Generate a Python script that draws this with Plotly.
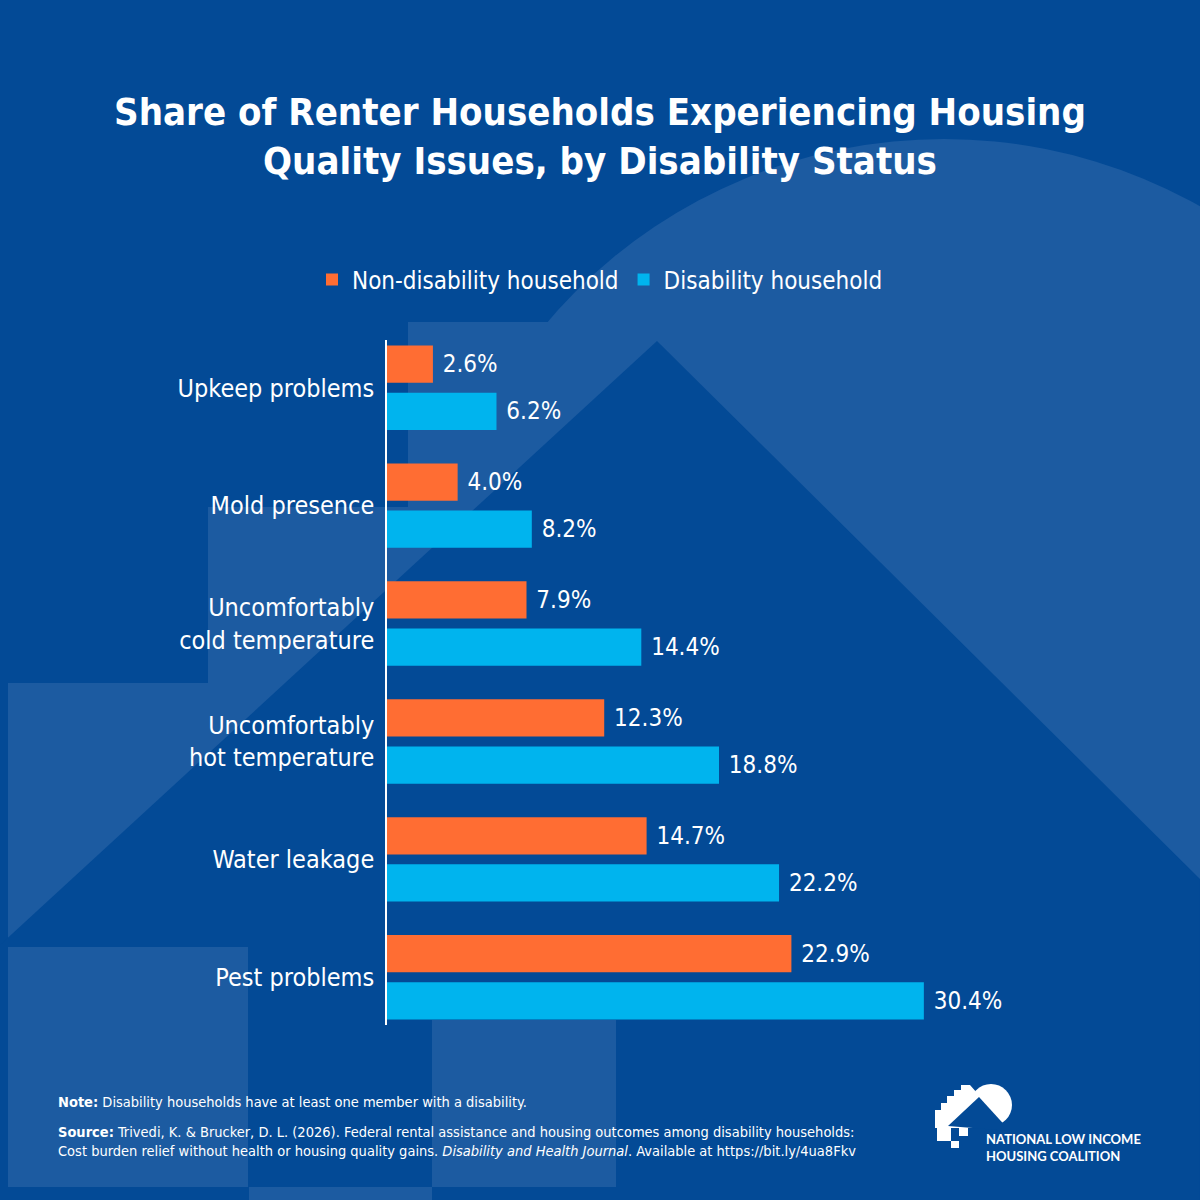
import plotly.graph_objects as go

# === data ===
categories = ['Upkeep problems', 'Mold presence', 'Uncomfortably<br>cold temperature',
              'Uncomfortably<br>hot temperature', 'Water leakage', 'Pest problems']
non_disability = [2.6, 4.0, 7.9, 12.3, 14.7, 22.9]
disability = [6.2, 8.2, 14.4, 18.8, 22.2, 30.4]
series_names = ['Non-disability household', 'Disability household']

BG = '#034a96'
LIGHT = '#1c5ba1'
ORANGE = '#ff6d33'
CYAN = '#00b4ee'
FONT = 'DejaVu Sans Condensed, Liberation Sans Narrow, Arial Narrow, sans-serif'

# plot area in pixels (1200x1200 canvas)
L, R, T, B = 387, 1100, 340, 1025


def px(x):
    return (x - L) / (R - L)


def py(y):
    return (B - y) / (B - T)


def rect(x0, y0, x1, y1, color, layer='below'):
    return dict(type='rect', xref='paper', yref='paper', layer=layer,
                x0=px(x0), x1=px(x1), y0=py(y1), y1=py(y0),
                fillcolor=color, line=dict(width=0))


def poly(points, color, layer='below'):
    d = 'M' + ' L'.join(f'{px(x):.5f},{py(y):.5f}' for x, y in points) + ' Z'
    return dict(type='path', xref='paper', yref='paper', layer=layer, path=d,
                fillcolor=color, line=dict(width=0))


def circle(cx, cy, r, color, layer='below'):
    return dict(type='circle', xref='paper', yref='paper', layer=layer,
                x0=px(cx - r), x1=px(cx + r), y0=py(cy + r), y1=py(cy - r),
                fillcolor=color, line=dict(width=0))


# big faded logo in the background
shapes = [
    circle(944, 660, 521, LIGHT),
    rect(408, 322, 1200, 1200, LIGHT),
    rect(208, 507, 1200, 1200, LIGHT),
    rect(8, 683, 1200, 1200, LIGHT),
    poly([(657, 341), (0, 945), (0, 1200), (1200, 1200), (1200, 879)], BG),
    rect(8, 947, 248, 1187, LIGHT),
    rect(432, 1020, 616, 1187, LIGHT),
    rect(249, 1187, 432, 1200, LIGHT),
]

# small NLIHC logo bottom right
shapes += [
    circle(991, 1105, 21, 'white', 'above'),
    poly([(935, 1128), (935, 1110), (941, 1110), (941, 1103), (947, 1103), (947, 1096),
          (954, 1096), (954, 1090), (961, 1090), (961, 1085), (970, 1085), (992, 1110),
          (992, 1128)], 'white', 'above'),
    poly([(979, 1097), (1010, 1131), (948, 1126)], BG, 'above'),
    rect(937, 1128, 951, 1141, 'white', 'above'),
    rect(951, 1141, 959, 1148, 'white', 'above'),
    rect(959, 1128, 968, 1136, 'white', 'above'),
]

fig = go.Figure()
fig.add_trace(go.Bar(y=categories, x=non_disability, name=series_names[0], orientation='h',
                     marker=dict(color=ORANGE, line=dict(width=0)),
                     texttemplate=' %{x:.1f}%', textposition='outside', cliponaxis=False,
                     textfont=dict(color='white', size=24, family=FONT)))
fig.add_trace(go.Bar(y=categories, x=disability, name=series_names[1], orientation='h',
                     marker=dict(color=CYAN, line=dict(width=0)),
                     texttemplate=' %{x:.1f}%', textposition='outside', cliponaxis=False,
                     textfont=dict(color='white', size=24, family=FONT)))

fig.update_layout(
    width=1200, height=1200,
    margin=dict(l=L, r=1200 - R, t=T, b=1200 - B),
    paper_bgcolor=BG, plot_bgcolor='rgba(0,0,0,0)',
    barmode='group', bargap=0.2, bargroupgap=0.21,
    font=dict(family=FONT, color='white', size=24),
    title=dict(text='<b>Share of Renter Households Experiencing Housing<br>'
                    'Quality Issues, by Disability Status</b>',
               x=0.5, xanchor='center', xref='container',
               y=1 - 125 / 1200, yanchor='middle', yref='container',
               font=dict(size=38, color='white', family=FONT)),
    legend=dict(orientation='h', x=0.5, xanchor='center', xref='container',
                y=1 - 280 / 1200, yanchor='middle', yref='container',
                font=dict(size=24, color='white', family=FONT),
                bgcolor='rgba(0,0,0,0)', traceorder='normal'),
    xaxis=dict(range=[0, (R - L) / 17.66], visible=False, showgrid=False, zeroline=False),
    yaxis=dict(range=[5.405, -0.405], showline=True, linecolor='white', linewidth=1.5,
               ticks='', showgrid=False, zeroline=False, ticklabelstandoff=6,
               tickfont=dict(size=25, color='white', family=FONT)),
    shapes=shapes,
    showlegend=True,
)

fig.add_annotation(xref='paper', yref='paper', x=px(56), y=py(1102), xanchor='left',
                   yanchor='middle', showarrow=False, align='left',
                   text='<b>Note:</b> Disability households have at least one member with a disability.',
                   font=dict(size=14.5, color='white', family=FONT))
fig.add_annotation(xref='paper', yref='paper', x=px(56), y=py(1141), xanchor='left',
                   yanchor='middle', showarrow=False, align='left',
                   text='<b>Source:</b> Trivedi, K. & Brucker, D. L. (2026). Federal rental assistance '
                        'and housing outcomes among disability households:<br>Cost burden relief without '
                        'health or housing quality gains. <i>Disability and Health Journal</i>. '
                        'Available at https://bit.ly/4ua8Fkv',
                   font=dict(size=14.5, color='white', family=FONT))
fig.add_annotation(xref='paper', yref='paper', x=px(984), y=py(1147), xanchor='left',
                   yanchor='middle', showarrow=False, align='left',
                   text='<b>NATIONAL LOW INCOME<br>HOUSING COALITION</b>',
                   font=dict(size=13, color='white', family='Lato, Open Sans, sans-serif'))

fig.write_html('out.html', config={'displayModeBar': False},
               post_script="document.body.style.margin='0';")
